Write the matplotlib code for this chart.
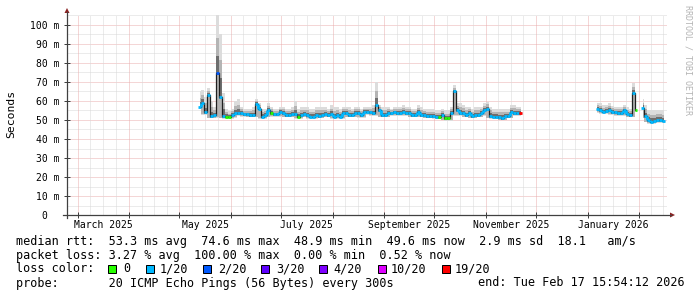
import matplotlib
matplotlib.use('Agg')

import matplotlib.pyplot as plt
import matplotlib.dates as mdates
from matplotlib.patches import Rectangle, Polygon
from matplotlib.lines import Line2D
import numpy as np
import pandas as pd

W, H = 697, 297
MONO = 'DejaVu Sans Mono'

# graph window: 360 days up to the end stamp
t_end = pd.Timestamp('2026-02-17 15:54:12')
t_start = t_end - pd.Timedelta(days=360)

# median rtt (ms) and top of the smoke (ms), one value per ~1.8 days
seg1_start, seg1_end = '2025-05-13 11:00', '2025-11-22 01:00'
seg1_median = [57, 59, 54, 63, 52, 52.5, 74.6, 62, 52, 51.7,
               51.7, 52.5, 53.5, 53.5, 53.5, 53, 53, 52.6, 52.6, 58.5,
               56, 51.7, 52.6, 55, 53.5, 53, 53, 54.4, 53.5, 52.6,
               52.6, 53, 53, 51.7, 52.6, 53, 52.6, 51.7, 51.7, 52.6,
               52, 52.6, 53.2, 52.6, 53, 51.7, 52.6, 51.7, 53.5, 53.5,
               52.6, 52.6, 53.5, 53.5, 52.5, 54.4, 54.4, 54, 53.5, 58,
               55, 52.6, 52.6, 53.5, 53.5, 54, 53.5, 53.5, 54.4, 53.5,
               53.5, 52.6, 52.6, 54, 52.6, 52.6, 52, 52, 52, 51.7,
               51.5, 52.6, 51, 50.9, 53.5, 65, 55, 53.5, 53.5, 52.6,
               53.5, 52, 52.6, 52.6, 53.5, 55, 56, 52, 51.7, 51.7,
               51.5, 51, 52, 52, 54.4, 53.5, 53.5, 53.5]
seg1_top = [65, 66, 62, 67, 60, 57, 105.5, 95, 64, 56,
            54.5, 56, 60, 61, 57, 56, 56, 56, 57, 61,
            59, 56, 56, 59, 57, 56, 56, 57, 57, 56,
            56, 57, 60, 56, 57, 57, 57, 56, 56, 57,
            57, 57, 57, 56, 58, 57, 57, 56, 57, 57,
            57, 56, 57, 57, 56, 57, 57, 57, 58, 70,
            58, 57, 57, 57, 56, 57, 57, 57, 58, 57,
            57, 56, 56, 58, 57, 56, 56, 56, 56, 55,
            55, 56, 55, 55, 57, 68.5, 59, 59, 58, 57,
            57, 56, 57, 57, 57, 59, 59.6, 57, 56, 56,
            56, 56, 56, 56, 58, 58, 57, 57]
seg1_loss = {6: 2, 9: 0, 10: 0, 24: 0, 33: 0, 80: 0, 82: 0, 83: 0, 107: 19}

seg2_start, seg2_end = '2026-01-06 16:00', '2026-01-30 01:30'
seg2_median = [55.6, 55, 54.4, 54.5, 55, 54, 54, 53.5, 53.5, 55, 53.2, 52.6, 64, 55.3]
seg2_top = [59, 59, 58, 58, 59, 57.5, 57, 57, 57, 58, 57, 56, 69.3, 57]
seg2_loss = {13: 0}

seg3_start, seg3_end = '2026-02-03 06:00', '2026-02-15 20:40'
seg3_median = [56.5, 52, 50, 49.1, 49.5, 50, 49.8, 49.6]
seg3_top = [61, 58, 55, 55, 55, 55, 55, 55]
seg3_loss = {}

loss_levels = ['0', '1/20', '2/20', '3/20', '4/20', '10/20', '19/20']
loss_keys = [0, 1, 2, 3, 4, 10, 19]
loss_colors = ['#26ff00', '#00b8ff', '#0059ff', '#5e00ff', '#7e00ff', '#dd00ff', '#ff0000']
loss_box_x = [108, 146, 203, 261, 319, 378, 442]
loss_text_x = [123, 160, 218, 276, 333, 391, 455]

legend_rtt = "median rtt:  53.3 ms avg  74.6 ms max  48.9 ms min  49.6 ms now  2.9 ms sd  18.1   am/s"
legend_loss = "packet loss: 3.27 % avg  100.00 % max  0.00 % min  0.52 % now"
legend_probe = "probe:       20 ICMP Echo Pings (56 Bytes) every 300s"
legend_end = "end: Tue Feb 17 15:54:12 2026"

y_max = 200 / 1.9
color_of = dict(zip(loss_keys, loss_colors))


def px(x, y):
    return x / W, 1 - y / H


fig = plt.figure(figsize=(W / 100, H / 100), dpi=100)
ax = fig.add_axes([67 / W, (H - 215) / H, 600 / W, 200 / H])
ax.set_xlim(mdates.date2num(t_start), mdates.date2num(t_end))
ax.set_ylim(0, y_max)
for s in ax.spines.values():
    s.set_visible(False)

# grid, 1px dotted
mgrid = '#eaaeae'
grid = '#d9d9d9'
gkw = dict(lw=0.72, ls=(0, (1, 1)), zorder=0)
for v in np.arange(5, 106, 10):
    ax.axhline(v, color=grid, **gkw)
for v in range(10, 101, 10):
    ax.axhline(v, color=mgrid, **gkw)

months = pd.date_range('2025-02-01', '2026-03-01', freq='MS')
mnum = mdates.date2num(months.to_pydatetime())
for a, b in zip(mnum[:-1], mnum[1:]):
    for k in (1, 2, 3):
        ax.axvline(a + k * (b - a) / 4, color=grid, **gkw)
for a in mnum:
    ax.axvline(a, color=mgrid, **gkw)


def draw_segment(start, end, med, top, loss):
    t = mdates.date2num(pd.date_range(start, end, periods=len(med)).to_pydatetime())
    half = (t[1] - t[0]) / 2
    med = np.array(med, dtype=float)
    top = np.array(top, dtype=float)
    prev = np.r_[med[0], med[:-1]]
    nxt = np.r_[med[1:], med[-1]]
    lo = np.minimum(med, np.minimum(prev, nxt)) - 1.2
    span = top - med
    ax.fill_between(t, lo, top, step='mid', color='#dcdcdc', lw=0, zorder=1)
    ax.fill_between(t, lo + 0.4, med + 0.6 * span, step='mid', color='#b4b4b4', lw=0, zorder=1)
    ax.fill_between(t, med - 0.8, med + 0.3 * span, step='mid', color='#6e6e6e', lw=0, zorder=1)
    ax.plot(t, med, drawstyle='steps-mid', color='#202020', lw=0.9, zorder=2)
    codes = np.array([loss.get(i, 1) for i in range(len(med))])
    # small jumps between two cyan steps stay cyan, big jumps show the dark line
    join = (codes[:-1] == 1) & (codes[1:] == 1) & (np.abs(np.diff(med)) < 3)
    tm = (t[:-1] + t[1:]) / 2
    ax.vlines(tm[join], med[:-1][join], med[1:][join], color=color_of[1], lw=2.0, zorder=3)
    ax.hlines(med, t - half, t + half, colors=[color_of[c] for c in codes], lw=2.0, zorder=3)


draw_segment(seg1_start, seg1_end, seg1_median, seg1_top, seg1_loss)
draw_segment(seg2_start, seg2_end, seg2_median, seg2_top, seg2_loss)
draw_segment(seg3_start, seg3_end, seg3_median, seg3_top, seg3_loss)

# ticks and labels
ax.set_yticks(range(0, 101, 10))
ax.set_yticklabels(['0  '] + [f'{v} m' for v in range(10, 101, 10)], family=MONO, fontsize=7)
ax.set_xticks(mnum)
ax.set_xticklabels([])
ax.tick_params(direction='inout', length=4, width=0.72, color='#404040', pad=3.6)
ax.set_xlim(mdates.date2num(t_start), mdates.date2num(t_end))

for m in ['2025-03', '2025-05', '2025-07', '2025-09', '2025-11', '2026-01']:
    a = pd.Timestamp(m + '-01')
    b = a + pd.offsets.MonthBegin(1)
    mid = mdates.date2num(a) + (mdates.date2num(b) - mdates.date2num(a)) / 2
    ax.text(mid, -0.05, a.strftime('%B %Y'), transform=ax.get_xaxis_transform(),
            ha='center', va='center', family=MONO, fontsize=7)

# axes with arrows
axis_c = '#404040'
fig.add_artist(Line2D([67 / W, 67 / W], [1 - 218 / H, 1 - 12 / H], color=axis_c, lw=0.9))
fig.add_artist(Line2D([63 / W, 671 / W], [1 - 215 / H, 1 - 215 / H], color=axis_c, lw=0.9))
arrow_c = '#8b2323'
fig.add_artist(Polygon([px(64.5, 13), px(69.5, 13), px(67, 8)], closed=True,
                       transform=fig.transFigure, color=arrow_c, lw=0))
fig.add_artist(Polygon([px(670, 212.5), px(670, 217.5), px(675, 215)], closed=True,
                       transform=fig.transFigure, color=arrow_c, lw=0))

fig.text(*px(11, 114), 'Seconds', rotation=90, ha='center', va='center', family=MONO, fontsize=8.2)
fig.text(*px(688, 60), 'RRDTOOL / TOBI OETIKER', rotation=270, ha='center', va='center',
         family=MONO, fontsize=6, color='#b4b4b4')

# legend
fs = 8.5
fig.text(*px(16, 241), legend_rtt, family=MONO, fontsize=fs, va='center')
fig.text(*px(16, 255), legend_loss, family=MONO, fontsize=fs, va='center')
fig.text(*px(16, 269), 'loss color:', family=MONO, fontsize=fs, va='center')
for bx, tx, lab, col in zip(loss_box_x, loss_text_x, loss_levels, loss_colors):
    fig.add_artist(Rectangle(px(bx, 272.5), 7.5 / W, 7.5 / H, transform=fig.transFigure,
                             facecolor=col, edgecolor='black', lw=0.72))
    fig.text(*px(tx, 269), lab, family=MONO, fontsize=fs, va='center')
fig.text(*px(16, 283), legend_probe, family=MONO, fontsize=fs, va='center')
fig.text(*px(478, 283), legend_end, family=MONO, fontsize=fs, va='center')

fig.savefig('out.png', dpi=100)
